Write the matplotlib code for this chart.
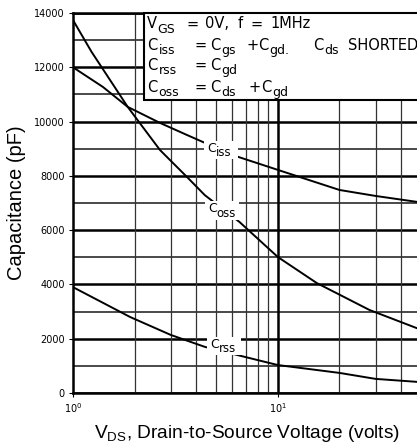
import matplotlib
matplotlib.use("Agg")
import matplotlib.pyplot as plt
from matplotlib.patches import Rectangle

# Data
vds_iss = [1.0, 1.4, 1.85, 2.66, 3.6, 4.3, 6.4, 10.0, 20.0, 30.0, 50.0]
ciss = [12000, 11275, 10540, 9950, 9506, 9250, 8700, 8220, 7480, 7260, 7020]

vds_oss = [1.0, 1.23, 1.85, 2.19, 2.66, 3.6, 4.4, 6.5, 10.0, 15.5, 28.0, 50.0]
coss = [13740, 12576, 10540, 9800, 8950, 7960, 7290, 6300, 5010, 4050, 3060, 2330]

vds_rss = [1.0, 1.9, 3.0, 4.4, 6.9, 10.0, 20.0, 30.0, 50.0]
crss = [3900, 2800, 2140, 1700, 1330, 1030, 740, 520, 400]

yticks = [0, 2000, 4000, 6000, 8000, 10000, 12000, 14000]
xtick_labels = [r"$10^0$", r"$10^1$"]

# curve labels: (main letter, subscript, x px, main baseline px, sub baseline px)
curve_labels = [("C", "iss", 207, 152, 156),
                ("C", "oss", 208, 212, 217),
                ("C", "rss", 210, 348, 352)]

# condition box text: per line, list of (text, is_subscript, x px)
box_lines = [
    [("V", 0, 147), ("GS", 1, 157), ("=", 0, 186), ("0V,", 0, 205), ("f", 0, 238),
     ("=", 0, 251), ("1MHz", 0, 270)],
    [("C", 0, 147), ("iss", 1, 158.5), ("=", 0, 194), ("C", 0, 210), ("gs", 1, 221.5),
     ("+", 0, 246), ("C", 0, 258), ("gd.", 1, 269.5), ("C", 0, 313), ("ds", 1, 324.5),
     ("SHORTED", 0, 348)],
    [("C", 0, 147), ("rss", 1, 158.5), ("=", 0, 194), ("C", 0, 210), ("gd", 1, 221.5)],
    [("C", 0, 147), ("oss", 1, 158.5), ("=", 0, 194), ("C", 0, 210), ("ds", 1, 221.5),
     ("+", 0, 248), ("C", 0, 261), ("gd", 1, 272.5)],
]
box_baselines = [(28.5, 33), (50, 54), (70, 74), (92, 96)]

W, H = 417, 445
fig = plt.figure(figsize=(W / 100, H / 100), dpi=100)
ax = fig.add_axes([73 / W, 1 - 393 / H, (421 - 73) / W, (393 - 13) / H])
ax.set_xscale("log")
ax.set_xlim(1, 50)
ax.set_ylim(0, 14000)

# grid
for y in range(0, 14001, 1000):
    if y % 2000 == 0:
        ax.axhline(y, color="black", lw=1.8, zorder=1)
    else:
        ax.axhline(y, color="#2a2a2a", lw=1.2, zorder=1)
for v in [2, 3, 4, 5, 6, 7, 8, 9, 20, 30, 40]:
    ax.axvline(v, color="#333333", lw=0.9, zorder=1)
ax.axvline(10, color="black", lw=1.8, zorder=1)

for xs, ys in [(vds_iss, ciss), (vds_oss, coss), (vds_rss, crss)]:
    ax.plot(xs, ys, color="black", lw=1.4, zorder=2)

for s in ["left", "bottom", "top"]:
    ax.spines[s].set_linewidth(1.8)
ax.spines["right"].set_visible(False)

ax.set_yticks(yticks)
ax.set_yticklabels([str(t) for t in yticks], fontsize=7)
ax.set_xticks([1, 10])
ax.set_xticklabels(xtick_labels, fontsize=7)
ax.xaxis.set_minor_locator(matplotlib.ticker.NullLocator())
ax.tick_params(axis="both", length=3, width=0.8, pad=3)

ax.set_ylabel("Capacitance (pF)", fontsize=14.5, family="Liberation Sans", labelpad=6)
ax.set_xlabel(r"$\mathregular{V_{DS}}$, Drain-to-Source Voltage (volts)", fontsize=13.8,
              family="Liberation Sans", labelpad=6)

# curve labels (white background hides grid and curve behind)
for main, sub, x, yb, ysb in curve_labels:
    fig.patches.append(Rectangle(((x - 3) / W, 1 - (ysb + 3) / H), 34 / W, (ysb - yb + 14) / H,
                                 transform=fig.transFigure, facecolor="white",
                                 edgecolor="none", zorder=3))
    fig.text(x / W, 1 - yb / H, main, fontsize=9, va="baseline", ha="left", zorder=4)
    fig.text((x + 8.5) / W, 1 - ysb / H, sub, fontsize=8.5, va="baseline", ha="left", zorder=4)

# condition box
fig.patches.append(Rectangle((144 / W, 1 - 100 / H), 0.7, (100 - 13) / H,
                             transform=fig.transFigure, facecolor="white",
                             edgecolor="black", lw=1.5, zorder=5))
for tokens, (yb, ysb) in zip(box_lines, box_baselines):
    for text, is_sub, x in tokens:
        fig.text(x / W, 1 - (ysb if is_sub else yb) / H, text,
                 fontsize=9 if is_sub else 10.5, va="baseline", ha="left", zorder=6)

fig.savefig("out.png", dpi=100)
